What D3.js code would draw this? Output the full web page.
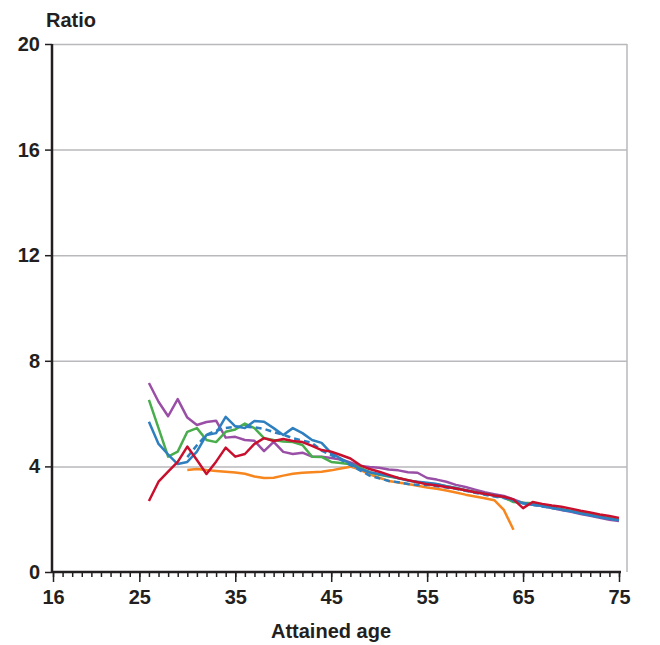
<!DOCTYPE html>
<meta charset="utf-8">
<script src="https://d3js.org/d3.v7.min.js"></script>
<style>
body { margin: 0; background: #fff; }
text { font-family: "Liberation Sans", Arial, sans-serif; font-weight: bold; fill: #231f20; }
.grid line { stroke: #b9b9bd; stroke-width: 1.5; }
.grid .domain { display: none; }
.axis .domain { display: none; }
.axis line { stroke: #231f20; stroke-width: 1.5; }
</style>
<body>
<div id="canvas"></div>
<script>
// ages 26..75 (one value per year)
var ages = d3.range(26, 76);
var purple = [7.16, 6.45, 5.9, 6.55, 5.85, 5.57, 5.68, 5.73, 5.09, 5.12,
  5.0, 4.97, 4.58, 4.93, 4.55, 4.47, 4.52, 4.37, 4.37, 4.32,
  4.26, 4.15, 4.02, 3.98, 3.95, 3.88, 3.85, 3.78, 3.76, 3.56,
  3.5, 3.42, 3.3, 3.22, 3.12, 3.02, 2.95, 2.88, 2.75, 2.62,
  2.55, 2.5, 2.42, 2.35, 2.28, 2.2, 2.13, 2.05, 1.98, 1.93];
var blue = [5.69, 4.85, 4.45, 4.09, 4.17, 4.56, 5.19, 5.26, 5.88, 5.52,
  5.45, 5.72, 5.69, 5.45, 5.19, 5.45, 5.26, 5.0, 4.89, 4.5,
  4.3, 4.1, 3.9, 3.78, 3.71, 3.64, 3.55, 3.46, 3.42, 3.38,
  3.33, 3.25, 3.18, 3.1, 3.02, 2.96, 2.9, 2.84, 2.72, 2.6,
  2.55, 2.5, 2.43, 2.37, 2.3, 2.22, 2.15, 2.08, 2.02, 1.96];
var green = [6.52, 5.45, 4.37, 4.56, 5.31, 5.45, 5.0, 4.92, 5.31, 5.4,
  5.62, 5.45, 5.07, 5.0, 4.94, 4.92, 4.81, 4.37, 4.36, 4.17,
  4.13, 4.08, 3.95, 3.78, 3.68, 3.62, 3.56, 3.48, 3.4, 3.35,
  3.32, 3.25, 3.18, 3.1, 3.03, 2.96, 2.9, 2.82, 2.65, 2.62,
  2.6, 2.52, 2.45, 2.38, 2.32, 2.25, 2.18, 2.1, 2.04, 1.98];
var red = [2.69, 3.42, 3.8, 4.17, 4.75, 4.24, 3.71, 4.18, 4.71, 4.37,
  4.47, 4.85, 5.07, 4.96, 5.04, 4.96, 4.92, 4.78, 4.62, 4.56,
  4.43, 4.3, 4.05, 3.9, 3.8, 3.68, 3.56, 3.48, 3.4, 3.32,
  3.28, 3.22, 3.16, 3.1, 3.02, 2.96, 2.9, 2.85, 2.75, 2.42,
  2.65, 2.58, 2.52, 2.47, 2.4, 2.32, 2.25, 2.18, 2.12, 2.05];
// ages 30..75
var dashedAges = d3.range(30, 76);
var blueDashed = [4.35, 4.8, 5.2, 5.35, 5.45, 5.5, 5.5, 5.48, 5.42, 5.3,
  5.2, 5.07, 4.98, 4.89, 4.6, 4.43, 4.25, 4.05, 3.85, 3.65,
  3.55, 3.45, 3.4, 3.33, 3.3, 3.3, 3.25, 3.2, 3.15, 3.08,
  3.0, 2.93, 2.86, 2.8, 2.7, 2.6, 2.55, 2.48, 2.42, 2.36,
  2.3, 2.22, 2.15, 2.08, 2.02, 1.96];
// ages 30..64
var orangeAges = d3.range(30, 65);
var orange = [3.86, 3.9, 3.86, 3.83, 3.8, 3.77, 3.72, 3.62, 3.56, 3.57,
  3.65, 3.72, 3.76, 3.78, 3.8, 3.85, 3.92, 3.99, 3.88, 3.7,
  3.57, 3.45, 3.39, 3.33, 3.27, 3.2, 3.15, 3.09, 3.01, 2.93,
  2.86, 2.79, 2.72, 2.35, 1.6];

var yTicks = [0, 4, 8, 12, 16, 20];
var xTicks = [16, 25, 35, 45, 55, 65, 75];

var series = [
  {x: orangeAges, y: orange, color: "#f7861f", dash: null},
  {x: ages, y: purple, color: "#9a4fa6", dash: null},
  {x: ages, y: green, color: "#4aad4d", dash: null},
  {x: ages, y: blue, color: "#2e7fc0", dash: null},
  {x: dashedAges, y: blueDashed, color: "#2e7fc0", dash: "6,4"},
  {x: ages, y: red, color: "#c8102e", dash: null}
];

var W = 660, H = 645;
var svg = d3.select("#canvas").append("svg")
  .attr("width", W).attr("height", H);

// plot box
var pLeft = 52, pRight = 627, pTop = 44, pBottom = 572;

var x = d3.scaleLinear().domain([16, 75]).range([53, 619]);
var y = d3.scaleLinear().domain([0, 20]).range([pBottom, pTop]);

// gridlines
svg.append("g").attr("class", "grid")
  .attr("transform", "translate(" + pLeft + ",0)")
  .call(d3.axisLeft(y).tickValues(yTicks.slice(1)).tickSize(-(pRight - pLeft)).tickFormat(""));

// right border
svg.append("line")
  .attr("x1", pRight).attr("x2", pRight).attr("y1", pTop).attr("y2", pBottom)
  .attr("stroke", "#b9b9bd").attr("stroke-width", 1.5);

// y axis
var gy = svg.append("g").attr("class", "axis")
  .attr("transform", "translate(" + pLeft + ",0)")
  .call(d3.axisLeft(y).tickValues(yTicks).tickSize(7).tickPadding(5));
gy.selectAll("text").style("font-size", "20px").style("font-family", null);

// x axis minor + major ticks
svg.append("g").attr("class", "axis")
  .attr("transform", "translate(0," + pBottom + ")")
  .call(d3.axisBottom(x).tickValues(d3.range(16, 76)).tickSize(5).tickFormat(""));
var gx = svg.append("g").attr("class", "axis")
  .attr("transform", "translate(0," + pBottom + ")")
  .call(d3.axisBottom(x).tickValues(xTicks).tickSize(10).tickPadding(8));
gx.selectAll("text").style("font-size", "20px");
svg.selectAll(".axis").attr("font-family", null).attr("font-size", null);

// lines
var line = d3.line()
  .x(function(d) { return x(d[0]); })
  .y(function(d) { return y(d[1]); });

series.forEach(function(s) {
  svg.append("path")
    .datum(s.x.map(function(a, i) { return [a, s.y[i]]; }))
    .attr("d", line)
    .attr("fill", "none")
    .attr("stroke", s.color)
    .attr("stroke-width", 2.5)
    .attr("stroke-linejoin", "round")
    .attr("stroke-dasharray", s.dash);
});

// axis lines on top
svg.append("line")
  .attr("x1", pLeft).attr("x2", pLeft).attr("y1", pTop).attr("y2", pBottom + 1)
  .attr("stroke", "#231f20").attr("stroke-width", 2.5);
svg.append("line")
  .attr("x1", pLeft).attr("x2", 621).attr("y1", pBottom).attr("y2", pBottom)
  .attr("stroke", "#231f20").attr("stroke-width", 2.5);

svg.append("text").attr("x", 46).attr("y", 27)
  .style("font-size", "20px").text("Ratio");
svg.append("text").attr("x", 331).attr("y", 638)
  .attr("text-anchor", "middle").style("font-size", "20px").text("Attained age");
</script>
</body>
